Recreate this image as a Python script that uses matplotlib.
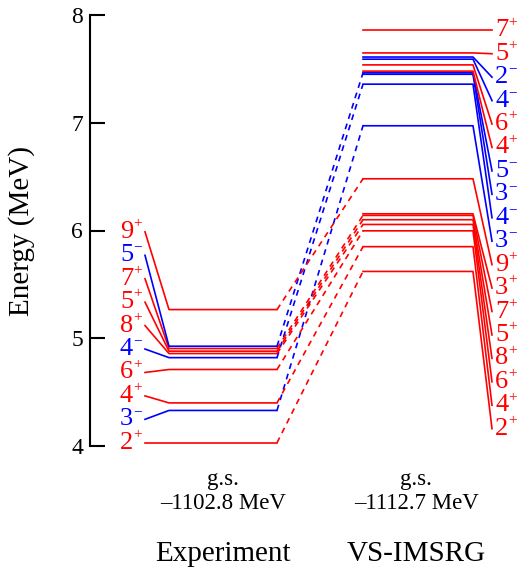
import matplotlib
matplotlib.use("Agg")
import matplotlib.pyplot as plt

plt.rcParams['font.family'] = ['Liberation Serif', 'DejaVu Serif']

# experiment levels (MeV), bottom to top
exp_spin = ['2', '3', '4', '6', '4', '8', '5', '7', '5', '9']
exp_par = ['+', '-', '+', '+', '-', '+', '+', '+', '-', '+']
exp_E = [4.03, 4.33, 4.40, 4.71, 4.82, 4.858, 4.88, 4.905, 4.926, 5.266]

# VS-IMSRG levels (MeV), bottom to top
th_spin = ['2', '4', '6', '8', '5', '7', '3', '9', '3', '4', '3', '5', '4', '6', '4', '2', '5', '7']
th_par = ['+', '+', '+', '+', '+', '+', '+', '+', '-', '-', '-', '-', '+', '+', '-', '-', '+', '+']
th_E = [5.62, 5.85, 5.997, 6.056, 6.10, 6.14, 6.155, 6.48, 6.972, 7.358,
        7.45, 7.463, 7.479, 7.537, 7.59, 7.61, 7.648, 7.858]

# which theory level each experimental level is linked to
links = [0, 8, 1, 2, 9, 3, 4, 5, 11, 7]

gs_exp = "\u20131102.8 MeV"
gs_th = "\u20131112.7 MeV"

col = {'+': '#ff0000', '-': '#0000ff'}
sup = {'+': '+', '-': '\u2212'}
lw = 1.2

fig = plt.figure(figsize=(5.2, 5.73), dpi=100)
ax = fig.add_axes([90/520, 127/573, 430/520, 431/573])
ax.set_xlim(0, 430)
ax.set_ylim(4, 8)

# x layout (1 unit = 1 pixel from the axis)
xl_txt, xl_lab, xl0, xl1 = 30, 55, 79, 187
xr0, xr1, xr_lab, xr_txt = 273, 383, 402, 405
step = 0.2175
fs = 19
dig_w = 0.5 * fs * 100 / 72 + 0.5
sup_dy = 0.075


def label(x, y, s, p):
    c = col[p]
    ax.text(x, y, s, color=c, fontsize=fs, ha='left', va='center', clip_on=False)
    ax.text(x + dig_w, y + sup_dy, sup[p], color=c, fontsize=11,
            ha='left', va='center', clip_on=False)


for i, (s, p, e) in enumerate(zip(exp_spin, exp_par, exp_E)):
    ly = 4.03 + i * step
    ax.plot([xl_lab, xl0, xl1], [ly, e, e], color=col[p], lw=lw, clip_on=False)
    label(xl_txt, ly, s, p)

n = len(th_E)
for i, (s, p, e) in enumerate(zip(th_spin, th_par, th_E)):
    ly = th_E[-1] - (n - 1 - i) * step
    ax.plot([xr0, xr1, xr_lab], [e, e, ly], color=col[p], lw=lw, clip_on=False)
    label(xr_txt, ly, s, p)

for i, j in enumerate(links):
    ax.plot([xl1, xr0], [exp_E[i], th_E[j]], color=col[exp_par[i]], lw=lw,
            ls=(0, (3.5, 3)), clip_on=False)

cl = (xl0 + xl1) / 2
cr = (xr0 + xr1) / 2 - 2
ax.text(cl, 3.69, "g.s.", fontsize=16.5, ha='center', va='center')
ax.text(cl, 3.47, gs_exp, fontsize=16.5, ha='center', va='center')
ax.text(cr, 3.69, "g.s.", fontsize=16.5, ha='center', va='center')
ax.text(cr, 3.47, gs_th, fontsize=16.5, ha='center', va='center')
ax.text(cl, 3.0, "Experiment", fontsize=21, ha='center', va='center')
ax.text(cr, 3.0, "VS-IMSRG", fontsize=21, ha='center', va='center')

for sp in ['top', 'right', 'bottom']:
    ax.spines[sp].set_visible(False)
ax.spines['left'].set_linewidth(1.5)
ax.set_xticks([])
ax.set_yticks([4, 5, 6, 7, 8])
ax.tick_params(axis='y', direction='in', length=11, width=1.5, labelsize=17, pad=5)
ax.set_ylabel("Energy (MeV)", fontsize=21)
ax.yaxis.set_label_coords(-55/430, 0.5)

fig.savefig("out.png", dpi=100)
